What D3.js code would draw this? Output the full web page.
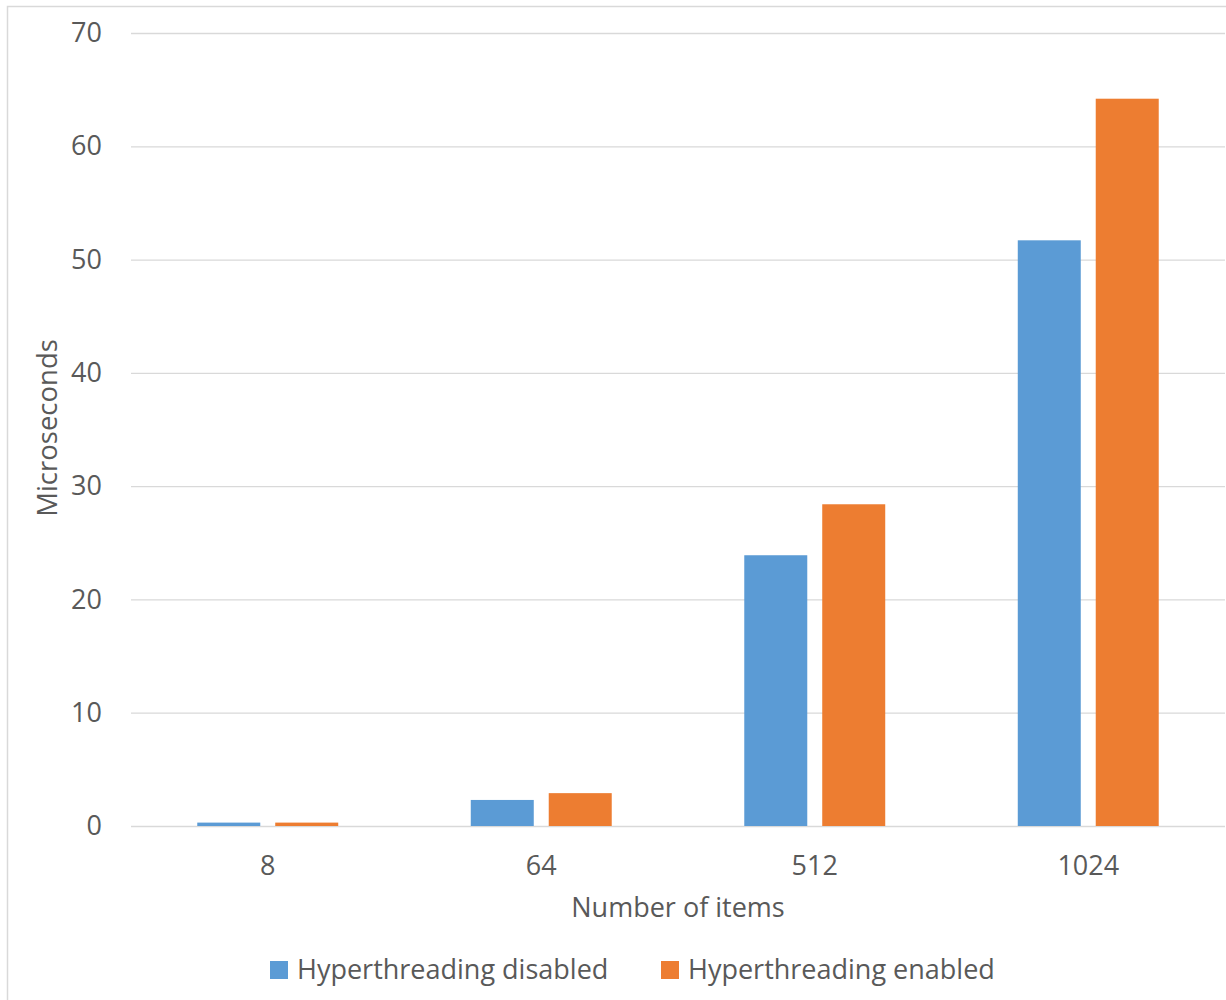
<!DOCTYPE html>
<html>
<head>
<meta charset="utf-8">
<script src="https://cdn.jsdelivr.net/npm/d3@7"></script>
<style>
  html, body { margin: 0; padding: 0; background: #fff; }
  svg { display: block; }
  svg text { font-family: "Open Sans", "Noto Sans", sans-serif; }
</style>
</head>
<body>
<svg id="chart" width="1226" height="1000"></svg>
<script>
// Benchmark timings (microseconds) per item count
const categories = ["8", "64", "512", "1024"];
const seriesNames = ["Hyperthreading disabled", "Hyperthreading enabled"];
const disabledValues = [0.3, 2.3, 23.9, 51.7];
const enabledValues = [0.3, 2.9, 28.4, 64.2];
const yTicks = [0, 10, 20, 30, 40, 50, 60, 70];
const colors = ["#5b9bd5", "#ed7d31"];

const svg = d3.select("#chart");
const W = 1226, H = 1000;
const margin = { left: 131, right: 1, top: 33, bottom: 174 };
const textColor = "#595959";
const fontSize = 27;

// chart frame
svg.append("rect")
  .attr("x", 7.5).attr("y", 6.5)
  .attr("width", W + 20).attr("height", H + 20)
  .attr("fill", "#fff").attr("stroke", "#d9d9d9").attr("stroke-width", 1.5);

const x = d3.scaleBand()
  .domain(categories)
  .range([margin.left, W - margin.right])
  .paddingInner(0).paddingOuter(0);

const y = d3.scaleLinear()
  .domain([0, 70])
  .range([H - margin.bottom, margin.top]);

const xs = d3.scaleBand()
  .domain(seriesNames)
  .range([0, x.bandwidth()])
  .paddingInner(0.192)
  .paddingOuter(0.85);

// horizontal gridlines with value labels
const yAxis = d3.axisLeft(y).tickValues(yTicks)
  .tickSize(-(W - margin.right - margin.left)).tickPadding(29);
const gy = svg.append("g").attr("transform", `translate(${margin.left},0)`).call(yAxis);
gy.attr("font-family", null).attr("font-size", null);
gy.select(".domain").remove();
gy.selectAll(".tick line").attr("stroke", "#d9d9d9").attr("stroke-width", 1.3);
gy.selectAll(".tick text")
  .attr("fill", textColor).attr("font-size", fontSize).attr("text-anchor", "end");

// category axis labels
const xAxis = d3.axisBottom(x).tickSize(0).tickPadding(30);
const gx = svg.append("g").attr("transform", `translate(0,${y(0)})`).call(xAxis);
gx.attr("font-family", null).attr("font-size", null);
gx.select(".domain").remove();
gx.selectAll(".tick text").attr("fill", textColor).attr("font-size", fontSize);

// bars
const rows = categories.map((c, i) => ({ cat: c, vals: [disabledValues[i], enabledValues[i]] }));
const groups = svg.append("g").selectAll("g").data(rows).join("g")
  .attr("transform", d => `translate(${x(d.cat)},0)`);
groups.selectAll("rect")
  .data(d => d.vals.map((v, k) => ({ name: seriesNames[k], v, k })))
  .join("rect")
  .attr("x", d => xs(d.name))
  .attr("width", xs.bandwidth())
  .attr("y", d => y(d.v))
  .attr("height", d => y(0) - y(d.v))
  .attr("fill", d => colors[d.k]);

// axis titles
svg.append("text")
  .attr("x", 678).attr("y", 917)
  .attr("text-anchor", "middle").attr("fill", textColor).attr("font-size", fontSize)
  .text("Number of items");
svg.append("text")
  .attr("transform", "translate(57,428) rotate(-90)")
  .attr("text-anchor", "middle").attr("fill", textColor).attr("font-size", 27.5)
  .text("Microseconds");

// legend
const legendX = [270, 661];
const lg = svg.append("g").selectAll("g").data(seriesNames).join("g")
  .attr("transform", (d, i) => `translate(${legendX[i]},961)`);
lg.append("rect").attr("width", 18).attr("height", 18).attr("fill", (d, i) => colors[i]);
lg.append("text").attr("x", 27).attr("y", 18)
  .attr("fill", textColor).attr("font-size", fontSize).text(d => d);
</script>
</body>
</html>
